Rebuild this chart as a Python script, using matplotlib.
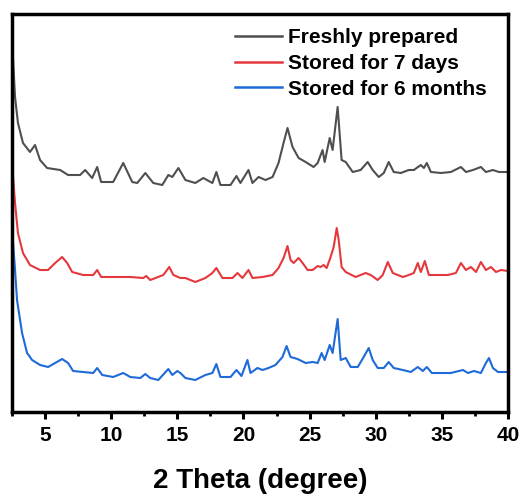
import matplotlib
matplotlib.use("Agg")
import matplotlib.pyplot as plt
from matplotlib.ticker import MultipleLocator

plt.rcParams["font.family"] = ["Liberation Sans", "DejaVu Sans"]
plt.rcParams["font.weight"] = "bold"

# Stacked XRD patterns (2θ in degrees, intensity in arbitrary units incl. stack offset)
fresh_2theta = [2.54, 2.73, 2.95, 3.33, 3.86, 4.24, 4.62, 5.15, 6.14, 6.74, 7.65, 8.03,
                8.56, 8.94, 9.24, 10.15, 10.91, 11.59, 11.97, 12.58, 13.18, 13.86, 14.32,
                14.62, 15.08, 15.61, 16.36, 16.97, 17.65, 17.95, 18.26, 19.02, 19.47, 19.77,
                20.38, 20.68, 21.14, 21.67, 22.20, 22.65, 23.03, 23.33, 23.71, 24.17, 24.70,
                25.30, 25.61, 25.98, 26.14, 26.52, 26.74, 27.12, 27.42, 27.73, 28.26, 28.86,
                29.39, 29.77, 30.23, 30.61, 30.98, 31.36, 31.89, 32.50, 32.88, 33.41, 33.64,
                33.86, 34.17, 34.92, 35.68, 36.44, 36.82, 37.35, 37.95, 38.33, 38.86, 39.32,
                40.00]
fresh_int = [362, 315, 289, 269, 260, 267, 252, 244, 242, 237, 237, 242,
             234, 245, 230, 230, 249, 230, 229, 239, 229, 227, 237,
             235, 244, 232, 229, 234, 229, 240, 227, 227, 236, 229,
             242, 229, 235, 232, 235, 249, 269, 284, 265, 254, 250,
             245, 249, 262, 250, 274, 262, 305, 252, 250, 240, 242,
             250, 242, 235, 239, 250, 240, 239, 242, 242, 247, 244,
             249, 240, 239, 240, 245, 240, 242, 245, 240, 242, 240,
             240]

days7_2theta = [2.58, 2.73, 2.95, 3.33, 3.86, 4.62, 5.23, 5.76, 6.29, 6.67, 7.05, 7.88,
                8.64, 8.94, 9.24, 10.45, 11.44, 12.42, 12.65, 12.95, 13.94, 14.39, 14.70,
                15.23, 15.61, 16.36, 17.12, 17.65, 17.95, 18.41, 19.17, 19.55, 19.92, 20.38,
                20.68, 21.44, 22.20, 22.65, 23.03, 23.33, 23.56, 23.79, 24.17, 24.47, 24.85,
                25.23, 25.61, 25.83, 26.06, 26.29, 26.59, 26.82, 27.05, 27.20, 27.42, 27.73,
                27.88, 28.48, 29.24, 29.62, 30.15, 30.53, 30.91, 31.29, 31.67, 32.05, 32.50,
                32.88, 33.18, 33.41, 33.71, 34.02, 34.70, 35.45, 36.06, 36.44, 36.82, 37.20,
                37.58, 37.95, 38.33, 38.71, 39.09, 39.47, 40.00]
days7_int = [235, 209, 179, 159, 147, 142, 142, 149, 155, 149, 140, 137,
             137, 142, 135, 135, 135, 134, 136, 132, 137, 145, 137,
             134, 134, 130, 134, 139, 144, 134, 134, 139, 134, 142,
             134, 135, 137, 144, 154, 166, 152, 149, 154, 149, 142,
             142, 146, 145, 147, 144, 155, 165, 184, 172, 145, 140,
             139, 135, 139, 137, 132, 137, 150, 139, 137, 135, 137,
             139, 149, 140, 151, 137, 137, 137, 139, 149, 142, 145,
             140, 150, 142, 145, 140, 142, 141]

months6_2theta = [2.58, 2.73, 2.88, 3.26, 3.64, 4.02, 4.62, 5.23, 5.76, 6.29, 6.74, 7.12,
                  7.88, 8.64, 8.94, 9.32, 10.15, 10.91, 11.44, 12.20, 12.58, 12.95, 13.56,
                  14.32, 14.62, 15.00, 15.23, 15.61, 16.36, 17.12, 17.65, 17.95, 18.26, 19.02,
                  19.47, 19.85, 20.30, 20.53, 21.06, 21.44, 21.89, 22.42, 22.95, 23.26, 23.56,
                  24.09, 24.70, 25.23, 25.61, 25.91, 26.14, 26.52, 26.74, 27.12, 27.35, 27.73,
                  28.11, 28.64, 29.09, 29.47, 29.77, 30.15, 30.61, 30.98, 31.36, 32.05, 32.65,
                  33.18, 33.56, 33.86, 34.24, 34.92, 35.68, 36.59, 36.97, 37.42, 37.95, 38.33,
                  38.56, 38.86, 39.24, 40.00]
months6_int = [169, 142, 112, 79, 59, 52, 47, 45, 49, 53, 49, 41,
               40, 39, 44, 37, 35, 39, 35, 34, 38, 34, 32,
               43, 37, 41, 39, 34, 32, 37, 39, 48, 35, 35,
               42, 36, 52, 39, 44, 42, 44, 47, 55, 66, 55,
               53, 49, 50, 49, 59, 52, 67, 59, 93, 52, 54,
               45, 45, 55, 64, 52, 44, 44, 50, 44, 42, 40,
               45, 41, 45, 39, 39, 39, 42, 39, 41, 39, 49,
               54, 44, 40, 40]

labels = ["Freshly prepared", "Stored for 7 days", "Stored for 6 months"]
colors = ["#4f4f4f", "#e5383c", "#1d6ad8"]
xticks = [5, 10, 15, 20, 25, 30, 35, 40]

fig = plt.figure(figsize=(5.23, 4.97), dpi=100)
ax = fig.add_axes([12 / 523, 1 - 412 / 497, 496 / 523, 398 / 497])

series = [(fresh_2theta, fresh_int), (days7_2theta, days7_int), (months6_2theta, months6_int)]
for (x, y), lab, c in zip(series, labels, colors):
    ax.plot(x, y, color=c, lw=1.5, label=lab)

ax.set_xlim(2.5, 40)
ax.set_ylim(0, 398)
ax.set_xticks(xticks)
ax.set_xticklabels([str(t) for t in xticks])
ax.xaxis.set_minor_locator(MultipleLocator(2.5))
ax.set_yticks([])
ax.tick_params(axis="x", which="major", direction="out", length=5, width=2.2,
               labelsize=15, pad=5)
ax.tick_params(axis="x", which="minor", direction="out", length=3, width=2)
for lbl in ax.get_xticklabels():
    lbl.set_fontweight("bold")
for s in ax.spines.values():
    s.set_linewidth(2.5)

ax.set_xlabel("2 Theta (degree)", fontsize=20, fontweight="bold", labelpad=17)

leg = ax.legend(loc="upper left", bbox_to_anchor=(235 / 523, 1 - 28 / 497),
                bbox_transform=fig.transFigure, frameon=False, fontsize=15,
                handlelength=2.25, handletextpad=0.3, labelspacing=0.33,
                borderpad=0, borderaxespad=0)
for t in leg.get_texts():
    t.set_fontweight("bold")
for h in leg.get_lines():
    h.set_linewidth(1.8)

fig.savefig("out.png", dpi=100)
